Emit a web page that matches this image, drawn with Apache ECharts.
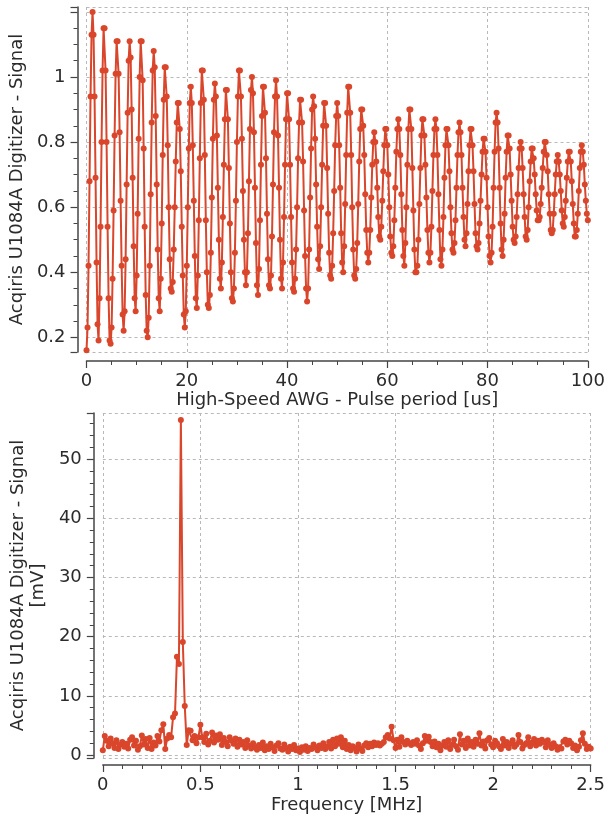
<!DOCTYPE html>
<html><head><meta charset="utf-8">
<script src="https://cdn.jsdelivr.net/npm/echarts@6/dist/echarts.min.js"></script>
<style>html,body{margin:0;padding:0;background:#fff}#c{width:608px;height:818px}</style>
</head><body><div id="c"></div>
<script>
// ---- data ----
const TIME_STEP_US = 0.2;           // sample spacing of the time trace
const signalValues = [
0.16,0.23,0.42,0.68,0.94,1.13,1.20,1.13,0.94,0.69,0.43,0.24,
0.19,0.32,0.54,0.80,1.02,1.15,1.15,1.02,0.80,0.54,0.32,0.19,
0.18,0.23,0.38,0.59,0.82,1.01,1.11,1.11,1.01,0.83,0.62,0.42,0.27,
0.22,0.28,0.44,0.67,0.89,1.05,1.11,1.06,0.90,0.69,0.48,0.32,
0.28,0.39,0.58,0.81,1.00,1.11,1.11,0.99,0.78,0.54,0.33,0.22,
0.20,0.26,0.42,0.64,0.86,1.02,1.08,1.03,0.88,0.67,0.47,0.32,
0.28,0.38,0.55,0.76,0.93,1.03,1.03,0.94,0.79,0.60,0.44,0.35,
0.34,0.37,0.47,0.60,0.74,0.86,0.92,0.92,0.84,0.71,0.54,0.39,0.27,
0.23,0.28,0.42,0.60,0.78,0.92,0.97,0.92,0.79,0.62,0.45,0.32,
0.29,0.39,0.56,0.75,0.92,1.02,1.02,0.93,0.76,0.56,0.40,0.30,
0.29,0.33,0.46,0.63,0.81,0.93,0.98,0.94,0.82,0.66,0.50,0.38,
0.35,0.43,0.57,0.73,0.87,0.96,0.96,0.87,0.72,0.55,0.40,0.32,
0.31,0.35,0.46,0.62,0.80,0.94,1.02,1.02,0.94,0.81,0.65,0.50,0.40,
0.36,0.40,0.52,0.68,0.84,0.96,1.00,0.95,0.83,0.66,0.49,0.36,
0.33,0.41,0.56,0.73,0.88,0.97,0.97,0.89,0.75,0.58,0.44,0.36,
0.35,0.39,0.51,0.67,0.83,0.94,0.99,0.94,0.82,0.66,0.50,0.38,
0.35,0.43,0.57,0.73,0.87,0.95,0.95,0.87,0.73,0.57,0.43,0.35,
0.34,0.38,0.47,0.60,0.75,0.86,0.93,0.93,0.86,0.74,0.59,0.45,0.35,
0.31,0.35,0.47,0.63,0.78,0.90,0.94,0.91,0.81,0.67,0.54,0.44,
0.41,0.48,0.60,0.73,0.85,0.92,0.92,0.85,0.72,0.58,0.46,0.39,
0.38,0.42,0.52,0.65,0.79,0.88,0.92,0.88,0.79,0.66,0.52,0.43,
0.40,0.48,0.61,0.76,0.89,0.97,0.97,0.89,0.76,0.60,0.47,0.39,
0.38,0.41,0.49,0.61,0.74,0.84,0.90,0.90,0.85,0.76,0.64,0.53,0.46,
0.43,0.46,0.53,0.63,0.73,0.80,0.83,0.80,0.74,0.66,0.57,0.51,
0.50,0.54,0.62,0.71,0.79,0.84,0.84,0.79,0.70,0.60,0.51,0.46,
0.45,0.48,0.56,0.66,0.77,0.84,0.87,0.84,0.76,0.64,0.53,0.45,
0.42,0.49,0.60,0.73,0.84,0.90,0.90,0.84,0.72,0.59,0.47,0.40,
0.40,0.42,0.50,0.61,0.72,0.82,0.87,0.87,0.82,0.73,0.63,0.53,0.46,
0.43,0.46,0.54,0.65,0.76,0.84,0.87,0.84,0.76,0.64,0.53,0.44,
0.42,0.47,0.57,0.69,0.79,0.84,0.84,0.79,0.71,0.60,0.52,0.47,
0.46,0.49,0.56,0.66,0.76,0.83,0.86,0.83,0.76,0.66,0.57,0.50,
0.48,0.52,0.61,0.71,0.79,0.84,0.84,0.79,0.71,0.61,0.52,0.48,
0.47,0.49,0.55,0.62,0.70,0.77,0.81,0.81,0.77,0.69,0.60,0.51,0.45,
0.43,0.46,0.54,0.66,0.77,0.86,0.89,0.86,0.78,0.66,0.55,0.47,
0.45,0.50,0.58,0.69,0.77,0.82,0.82,0.78,0.70,0.62,0.54,0.50,
0.49,0.51,0.57,0.64,0.72,0.78,0.80,0.78,0.72,0.64,0.57,0.51,
0.50,0.53,0.60,0.68,0.74,0.78,0.78,0.75,0.70,0.64,0.59,0.56,
0.56,0.57,0.61,0.66,0.72,0.77,0.80,0.80,0.76,0.71,0.64,0.58,0.53,
0.52,0.53,0.58,0.64,0.70,0.74,0.76,0.74,0.70,0.65,0.59,0.55,
0.54,0.57,0.62,0.69,0.74,0.77,0.77,0.74,0.68,0.61,0.55,0.51,
0.51,0.53,0.58,0.65,0.72,0.77,0.79,0.77,0.73,0.67,0.62,0.58,
0.56
];

const FREQ_STEP_MHZ = 0.01;         // bin spacing of the spectrum
const spectrumValues = [
0.8,3.2,2.4,1.5,2.8,2.0,1.2,2.5,1.0,1.8,
2.2,1.4,1.9,1.1,2.6,3.0,1.6,2.4,0.9,1.5,
3.3,1.8,2.7,1.2,2.9,1.0,2.1,1.6,3.2,2.3,
4.2,5.2,1.0,2.8,3.4,3.0,6.4,7.0,16.6,15.4,
56.6,19.1,8.3,1.7,4.2,4.1,2.5,3.2,2.0,3.0,
5.1,3.0,2.2,3.6,1.8,2.4,3.8,2.1,3.3,2.6,
3.5,1.7,2.9,2.2,1.5,3.0,2.4,1.9,2.8,1.4,
2.6,1.8,2.2,1.2,2.5,1.6,1.1,2.0,1.3,0.9,
1.7,1.2,2.1,0.8,1.5,1.0,1.9,1.3,0.7,1.6,
2.0,1.1,0.9,1.8,1.2,0.6,1.4,1.0,1.7,0.8,
1.1,0.5,1.3,0.9,1.5,0.7,1.2,1.0,1.8,1.3,
0.8,1.6,1.2,2.0,1.0,1.4,2.2,1.1,2.6,1.5,
2.8,1.9,3.0,1.3,2.4,1.0,1.7,0.8,1.5,1.2,
0.6,1.8,1.1,0.7,1.6,2.0,1.3,1.9,1.5,2.1,
1.7,2.0,1.6,1.9,2.2,3.0,3.4,2.8,4.8,2.5,
1.2,2.6,1.4,3.0,2.2,1.8,2.4,2.0,1.7,2.2,
1.9,2.5,1.6,1.0,2.0,3.2,2.4,3.1,2.2,1.5,
2.3,1.3,1.9,0.8,1.6,2.2,1.4,2.5,1.0,1.8,
2.6,1.5,0.9,3.5,1.8,2.4,1.2,2.8,1.6,2.2,
1.4,2.6,1.9,3.7,1.6,2.3,1.1,2.5,2.9,1.8,
1.3,2.4,2.0,1.5,1.0,2.7,1.6,2.2,1.2,1.9,
2.5,1.4,1.8,3.4,2.2,1.1,1.7,2.0,3.0,1.5,
2.1,2.7,1.6,2.4,1.9,2.6,2.2,1.3,2.5,1.8,
1.2,2.0,1.5,0.9,1.3,1.1,2.3,2.6,1.8,2.4,
2.0,1.2,1.6,0.8,1.4,2.5,3.7,1.9,1.0,1.4,
1.1
];

const topYTitle = 'Acqiris U1084A Digitizer - Signal';
const topXTitle = 'High-Speed AWG - Pulse period [us]';
const botYTitle = 'Acqiris U1084A Digitizer - Signal\n[mV]';
const botXTitle = 'Frequency [MHz]';

// ---- build ----
const signalData = signalValues.map((v, i) => [Math.round(i * TIME_STEP_US * 10) / 10, v]);
const spectrumData = spectrumValues.map((v, i) => [Math.round(i * FREQ_STEP_MHZ * 100) / 100, v]);

const FONT = 'DejaVu Sans';
const FS = 18;
const TEXT = '#2b2b2b';
const RED = '#d9462b';
const AXIS = '#444444';
const GRIDC = '#b8b8b8';

function axisBase(extra) {
  return Object.assign({
    type: 'value',
    axisLine: { show: true, onZero: false, lineStyle: { color: AXIS, width: 1.5 } },
    axisTick: { show: true, inside: false, length: 7, lineStyle: { color: AXIS, width: 1.2 } },
    splitLine: { show: true, lineStyle: { color: GRIDC, type: [3, 3], width: 1 } },
    nameLocation: 'middle',
    nameTextStyle: { color: TEXT, fontFamily: FONT, fontSize: FS }
  }, extra);
}
function minor(n) {
  return { show: true, splitNumber: n, length: 4, lineStyle: { color: AXIS, width: 1 } };
}
function labels(margin, formatter) {
  const o = { color: TEXT, fontFamily: FONT, fontSize: FS, margin: margin };
  if (formatter) o.formatter = formatter;
  return o;
}

const fmtTop = v => (v < 0.19 || v > 1.01) ? '' : String(+v.toFixed(2));
const fmtBot = v => (v < -0.01 || v > 50.5) ? '' : String(Math.round(v));

const option = {
  animation: false,
  backgroundColor: '#ffffff',
  grid: [
    { left: 85, right: 18, top: 7, bottom: 466 },
    { left: 101, right: 13, top: 413, bottom: 60 }
  ],
  xAxis: [
    axisBase({ gridIndex: 0, min: 0, max: 100, interval: 20, offset: 9,
      minorTick: minor(4), axisLabel: labels(11),
      name: topXTitle, nameGap: 29 }),
    axisBase({ gridIndex: 1, min: 0, max: 2.5, interval: 0.5, offset: 7,
      minorTick: minor(5), axisLabel: labels(11),
      name: botXTitle, nameGap: 31 })
  ],
  yAxis: [
    axisBase({ gridIndex: 0, min: 0.155, max: 1.215, splitNumber: 5, offset: 9,
      minorTick: minor(4), axisLabel: labels(12, fmtTop),
      name: topYTitle, nameGap: 32 }),
    axisBase({ gridIndex: 1, min: -0.5, max: 57.8, splitNumber: 6, offset: 9,
      minorTick: minor(5), axisLabel: labels(12, fmtBot),
      name: botYTitle, nameGap: 30,
      nameTextStyle: { color: TEXT, fontFamily: FONT, fontSize: FS, lineHeight: 20 } })
  ],
  series: [
    { type: 'line', xAxisIndex: 0, yAxisIndex: 0, data: signalData,
      symbol: 'circle', symbolSize: 6, showSymbol: true,
      lineStyle: { color: RED, width: 2 }, itemStyle: { color: RED } },
    { type: 'line', xAxisIndex: 1, yAxisIndex: 1, data: spectrumData,
      symbol: 'circle', symbolSize: 6, showSymbol: true,
      lineStyle: { color: RED, width: 2 }, itemStyle: { color: RED } }
  ]
};

const chart = echarts.init(document.getElementById('c'), null, { renderer: 'canvas' });
chart.setOption(option);
</script>
</body></html>
